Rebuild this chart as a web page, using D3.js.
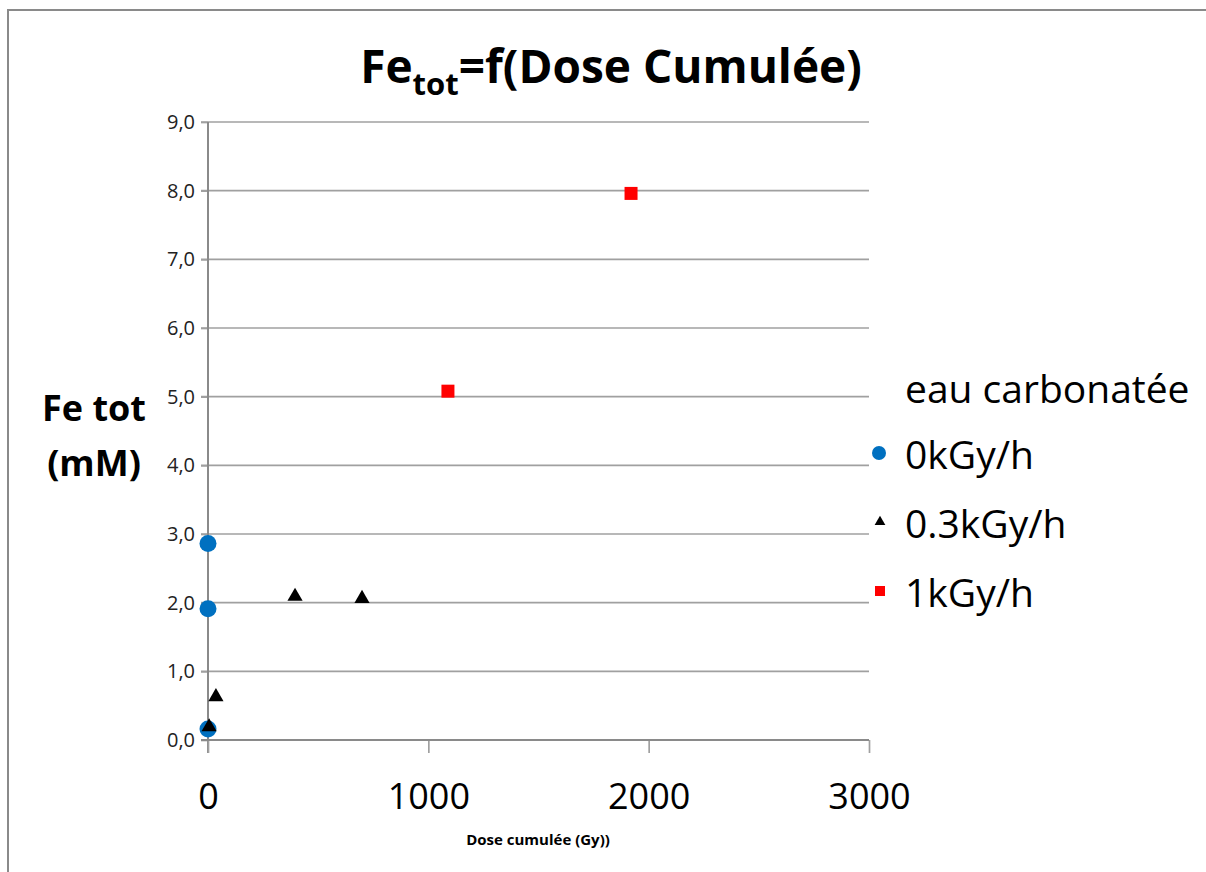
<!DOCTYPE html>
<html>
<head>
<meta charset="utf-8">
<script src="https://cdn.jsdelivr.net/npm/d3@7"></script>
<style>
  html, body { margin: 0; padding: 0; background: #fff; }
  svg { display: block; font-family: "Open Sans", "Noto Sans", sans-serif; }
</style>
</head>
<body>
<svg id="chart" width="1206" height="872"></svg>
<script>
// Series: cumulated dose (Gy) and total iron (mM)
const series0Dose = [0, 0, 0];
const series0Fe = [2.86, 1.91, 0.16];
const series03Dose = [5, 36, 395, 699];
const series03Fe = [0.19, 0.63, 2.09, 2.06];
const series1Dose = [1089, 1920];
const series1Fe = [5.08, 7.96];

const seriesNames = ["0kGy/h", "0.3kGy/h", "1kGy/h"];
const legendTitle = "eau carbonatée";
const yTickValues = [0, 1, 2, 3, 4, 5, 6, 7, 8, 9];
const xTickValues = [0, 1000, 2000, 3000];

const svg = d3.select("#chart");

// Outer chart-area frame
svg.append("rect")
  .attr("x", 8).attr("y", 10)
  .attr("width", 1220).attr("height", 900)
  .attr("fill", "none").attr("stroke", "#8a8a8a").attr("stroke-width", 2);

const x = d3.scaleLinear().domain([0, 3000]).range([208, 869]);
const y = d3.scaleLinear().domain([0, 9]).range([740, 122]);

// Horizontal gridlines
svg.append("g")
  .selectAll("line")
  .data(yTickValues)
  .join("line")
  .attr("x1", 201).attr("x2", x(3000))
  .attr("y1", d => y(d)).attr("y2", d => y(d))
  .attr("stroke", "#a0a0a0").attr("stroke-width", 1.7);

// Y axis
const yAxis = d3.axisLeft(y)
  .tickValues(yTickValues)
  .tickSize(7)
  .tickPadding(6)
  .tickFormat(d => d3.format(".1f")(d).replace(".", ","));
const gy = svg.append("g").attr("transform", `translate(${x(0)},0)`).call(yAxis);
gy.select(".domain").remove();
gy.selectAll(".tick line").attr("stroke", "#a0a0a0").attr("stroke-width", 1.7);
gy.selectAll(".tick text")
  .attr("font-family", "Open Sans, sans-serif")
  .attr("font-size", 20).attr("fill", "#222");
svg.append("line")
  .attr("x1", x(0)).attr("x2", x(0))
  .attr("y1", y(9)).attr("y2", y(0) + 13)
  .attr("stroke", "#8a8a8a").attr("stroke-width", 2);

// X axis
const xAxis = d3.axisBottom(x)
  .tickValues(xTickValues)
  .tickSize(13)
  .tickPadding(30)
  .tickFormat(d3.format("d"));
const gx = svg.append("g").attr("transform", `translate(0,${y(0)})`).call(xAxis);
gx.select(".domain").remove();
gx.selectAll(".tick line").attr("stroke", "#a0a0a0").attr("stroke-width", 1.7);
gx.selectAll(".tick text")
  .attr("font-family", "Open Sans, sans-serif")
  .attr("font-size", 36).attr("fill", "#000");
svg.append("line")
  .attr("x1", x(0) - 7).attr("x2", x(3000))
  .attr("y1", y(0)).attr("y2", y(0))
  .attr("stroke", "#8a8a8a").attr("stroke-width", 2);

// Title with subscript
const title = svg.append("text")
  .attr("x", 611).attr("y", 83)
  .attr("text-anchor", "middle")
  .attr("font-family", "Open Sans, sans-serif")
  .attr("font-weight", "bold")
  .attr("font-size", 46)
  .attr("fill", "#000");
title.append("tspan").text("Fe");
title.append("tspan").attr("font-size", 31).attr("dy", 12).text("tot");
title.append("tspan").attr("dy", -12).text("=f(Dose Cumulée)");

// Y axis title
const yTitle = svg.append("text")
  .attr("font-family", "Open Sans, sans-serif")
  .attr("font-weight", "bold")
  .attr("font-size", 36)
  .attr("fill", "#000")
  .attr("text-anchor", "middle");
yTitle.append("tspan").attr("x", 94).attr("y", 421).text("Fe tot");
yTitle.append("tspan").attr("x", 94).attr("y", 476).text("(mM)");

// X axis title
svg.append("text")
  .attr("x", 538).attr("y", 845)
  .attr("text-anchor", "middle")
  .attr("font-family", "Open Sans, sans-serif")
  .attr("font-weight", "bold")
  .attr("font-size", 15)
  .attr("fill", "#000")
  .text("Dose cumulée (Gy))");

// Marks
const plot = svg.append("g");
plot.selectAll("circle.s0")
  .data(d3.zip(series0Dose, series0Fe))
  .join("circle")
  .attr("class", "s0")
  .attr("cx", d => x(d[0])).attr("cy", d => y(d[1]))
  .attr("r", 8.5).attr("fill", "#0070C0");

const tri = d3.symbol().type(d3.symbolTriangle).size(100);
plot.selectAll("path.s03")
  .data(d3.zip(series03Dose, series03Fe))
  .join("path")
  .attr("class", "s03")
  .attr("transform", d => `translate(${x(d[0])},${y(d[1])})`)
  .attr("d", tri).attr("fill", "#000");

plot.selectAll("rect.s1")
  .data(d3.zip(series1Dose, series1Fe))
  .join("rect")
  .attr("class", "s1")
  .attr("x", d => x(d[0]) - 6.5).attr("y", d => y(d[1]) - 6.5)
  .attr("width", 13).attr("height", 13)
  .attr("fill", "#FF0000");

// Legend
const legend = svg.append("g").attr("font-family", "Open Sans, sans-serif").attr("fill", "#000");
legend.append("text").attr("x", 905).attr("y", 403).attr("font-size", 39).text(legendTitle);
const rowY = [453, 522, 591];
const rows = legend.selectAll("g.row").data(seriesNames).join("g").attr("class", "row")
  .attr("transform", (d, i) => `translate(0,${rowY[i]})`);
rows.append("text").attr("x", 905).attr("y", 16).attr("font-size", 39).text(d => d);
rows.each(function(d, i) {
  const g = d3.select(this);
  if (i === 0) g.append("circle").attr("cx", 879).attr("cy", 0).attr("r", 7).attr("fill", "#0070C0");
  if (i === 1) g.append("path").attr("transform", "translate(880,0)").attr("d", d3.symbol().type(d3.symbolTriangle).size(50)).attr("fill", "#000");
  if (i === 2) g.append("rect").attr("x", 875).attr("y", -5).attr("width", 10).attr("height", 10).attr("fill", "#FF0000");
});
</script>
</body>
</html>
